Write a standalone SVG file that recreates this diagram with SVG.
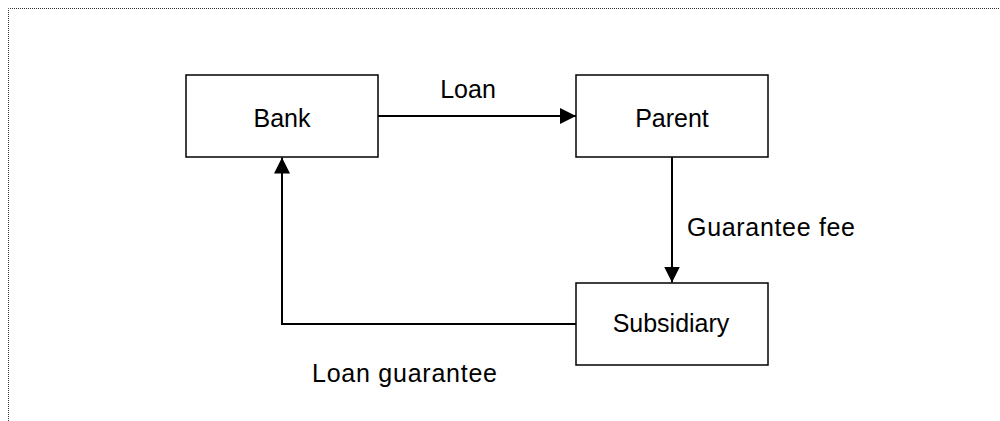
<svg xmlns="http://www.w3.org/2000/svg" width="1000" height="421" viewBox="0 0 1000 421">
<style>
.frame{fill:none;stroke:#333;stroke-width:1;stroke-dasharray:1 1}
.box{fill:#fff;stroke:#000;stroke-width:1.5}
.lbl{font-family:"Liberation Sans",Arial,sans-serif;font-size:25px;fill:#000}
.mid{text-anchor:middle}
.conn{fill:none;stroke:#000;stroke-width:2}
</style>
<defs>
<marker id="arr" viewBox="0 0 16 16" refX="16" refY="8" markerWidth="16" markerHeight="16" markerUnits="userSpaceOnUse" orient="auto">
<path d="M0,0 L16,8 L0,16 Z" fill="#000"/>
</marker>
</defs>
<path class="frame" d="M8.5,421 V8.5 H1000"/>
<g id="connectors">
<line class="conn" x1="378" y1="116" x2="576" y2="116" marker-end="url(#arr)"/>
<line class="conn" x1="672" y1="157" x2="672" y2="282.5" marker-end="url(#arr)"/>
<polyline class="conn" points="576,324 282,324 282,157.5" marker-end="url(#arr)"/>
<text class="lbl mid" x="468" y="98">Loan</text>
<text class="lbl" x="687" y="236" textLength="168" lengthAdjust="spacing">Guarantee fee</text>
<text class="lbl" x="312" y="382" textLength="185" lengthAdjust="spacing">Loan guarantee</text>
</g>
<g id="bank">
<rect class="box" x="186" y="75" width="192" height="82"/>
<text class="lbl mid" x="282" y="127">Bank</text>
</g>
<g id="parent">
<rect class="box" x="576" y="75" width="192" height="82"/>
<text class="lbl mid" x="672" y="127">Parent</text>
</g>
<g id="subsidiary">
<rect class="box" x="576" y="283" width="192" height="82"/>
<text class="lbl mid" x="671" y="332">Subsidiary</text>
</g>
</svg>
